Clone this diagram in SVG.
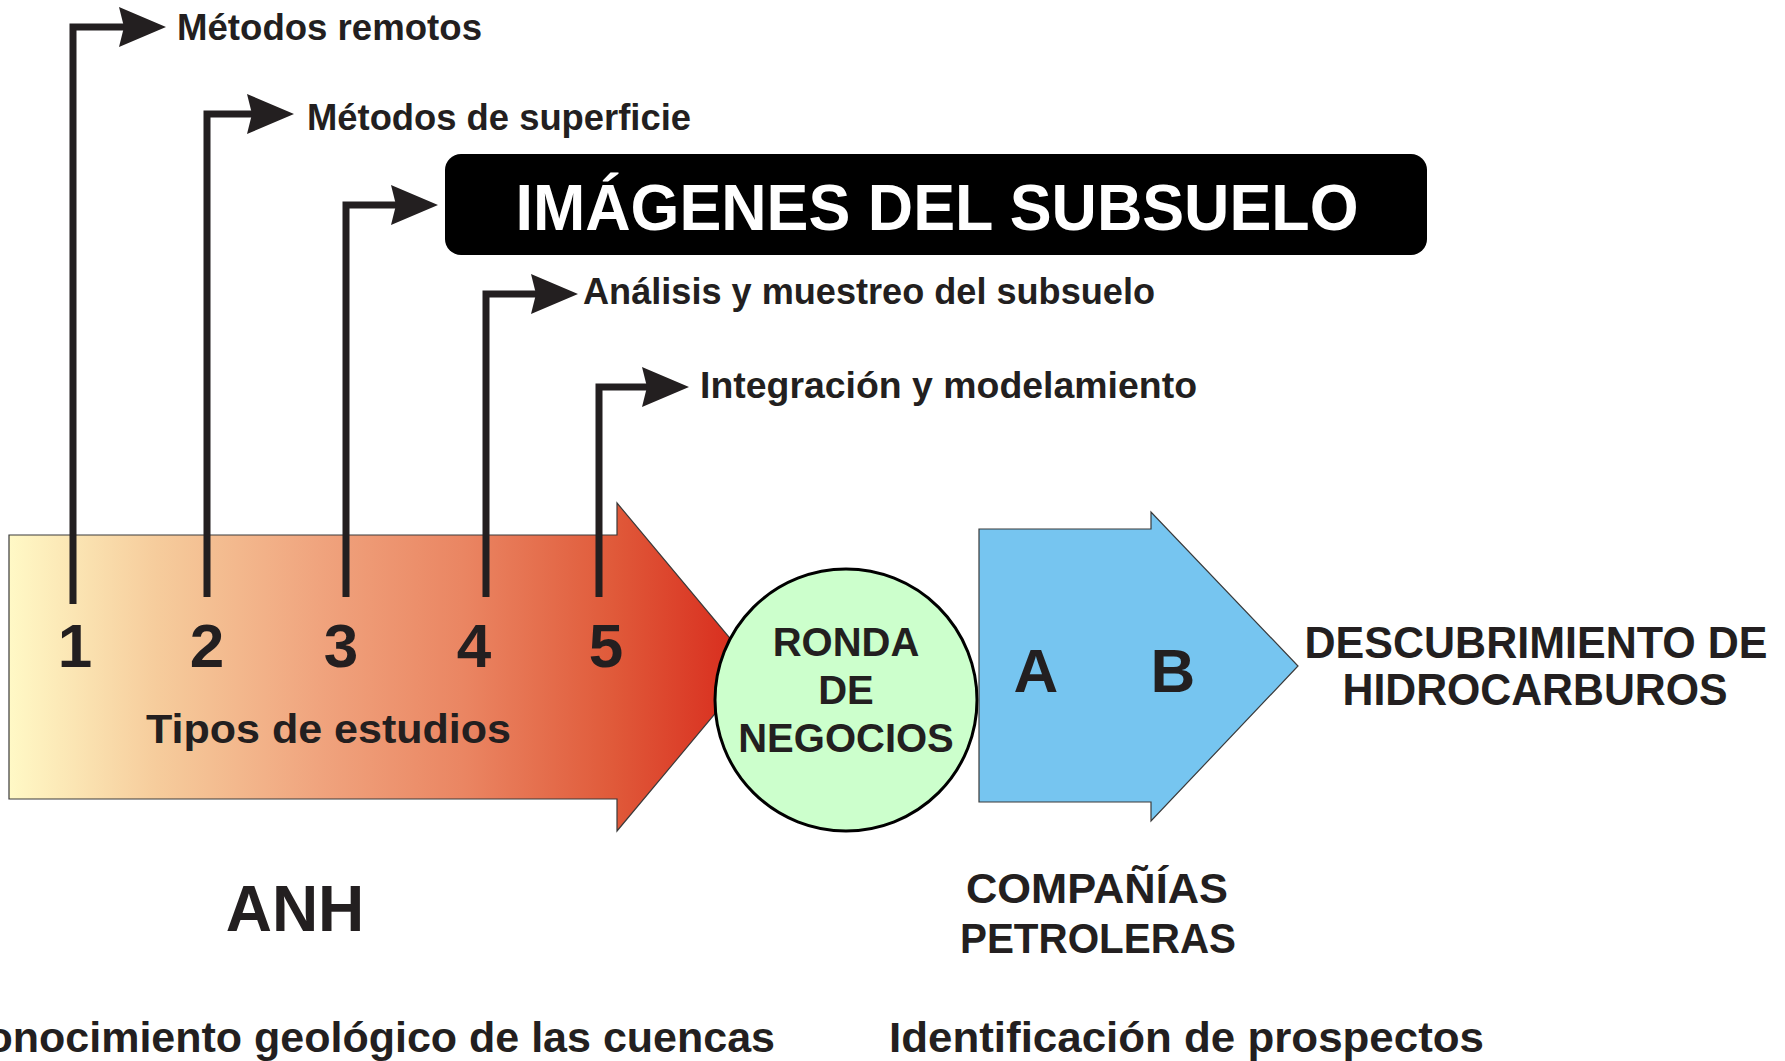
<svg xmlns="http://www.w3.org/2000/svg" width="1785" height="1061" viewBox="0 0 1785 1061">
  <defs>
    <linearGradient id="grad" gradientUnits="userSpaceOnUse" x1="9" y1="0" x2="745" y2="0">
      <stop offset="0" stop-color="#fff9c6"/>
      <stop offset="0.2" stop-color="#f6cc9c"/>
      <stop offset="0.42" stop-color="#f0a47e"/>
      <stop offset="0.62" stop-color="#ea8562"/>
      <stop offset="0.82" stop-color="#e05a3a"/>
      <stop offset="1" stop-color="#d82a1c"/>
    </linearGradient>
    <marker id="head" markerUnits="userSpaceOnUse" viewBox="0 0 47 40" markerWidth="47" markerHeight="40" refX="5" refY="20" orient="auto">
      <path d="M0,0 L47,20 L0,40 L5,20 Z" fill="#231f20"/>
    </marker>
    <style>
      text { font-family: "Liberation Sans", Arial, sans-serif; font-weight: bold; fill: #231f20; }
      .lbl { font-size: 36px; }
      .num { font-size: 62px; text-anchor: middle; }
      .mid { text-anchor: middle; }
      .conn { fill: none; stroke: #231f20; stroke-width: 7; stroke-linejoin: miter; stroke-linecap: butt; marker-end: url(#head); }
    </style>
  </defs>

  <g id="anh-arrow">
    <polygon points="9,535 617,535 617,503 754,667 617,831 617,799 9,799" fill="url(#grad)" stroke="#3a3a3a" stroke-width="1.2"/>
    <text class="num" x="75" y="667">1</text>
    <text class="num" x="207" y="667">2</text>
    <text class="num" x="341" y="667">3</text>
    <text class="num" x="474" y="667">4</text>
    <text class="num" x="606" y="667">5</text>
    <text x="146" y="743" font-size="41" textLength="365" lengthAdjust="spacingAndGlyphs">Tipos de estudios</text>
  </g>

  <g id="ronda">
    <circle cx="846" cy="700" r="131" fill="#ccffcc" stroke="#000" stroke-width="3"/>
    <text class="mid" x="846" y="656" font-size="40">RONDA</text>
    <text class="mid" x="846" y="704" font-size="40">DE</text>
    <text class="mid" x="846" y="752" font-size="40">NEGOCIOS</text>
  </g>

  <g id="companias-arrow">
    <polygon points="979,529 1151,529 1151,512 1298,666 1151,821 1151,802 979,802" fill="#76c5f0" stroke="#3a3a3a" stroke-width="1.2"/>
    <text class="num" x="1036" y="692">A</text>
    <text class="num" x="1173" y="692">B</text>
  </g>

  <g id="descubrimiento">
    <text class="mid" x="1536" y="658" font-size="44" textLength="463" lengthAdjust="spacingAndGlyphs">DESCUBRIMIENTO DE</text>
    <text class="mid" x="1535" y="705" font-size="44" textLength="385" lengthAdjust="spacingAndGlyphs">HIDROCARBUROS</text>
  </g>

  <g id="imagenes">
    <rect x="445" y="154" width="982" height="101" rx="16" ry="16" fill="#000"/>
    <text class="mid" x="937" y="230" font-size="65" fill="#fff" style="fill:#fff" textLength="843" lengthAdjust="spacingAndGlyphs">IMÁGENES DEL SUBSUELO</text>
  </g>

  <g id="metodos-remotos">
    <text class="lbl" x="177" y="40" textLength="305" lengthAdjust="spacingAndGlyphs">Métodos remotos</text>
  </g>
  <g id="metodos-superficie">
    <text class="lbl" x="307" y="130" textLength="384" lengthAdjust="spacingAndGlyphs">Métodos de superficie</text>
  </g>
  <g id="analisis">
    <text class="lbl" x="583" y="304" textLength="572" lengthAdjust="spacingAndGlyphs">Análisis y muestreo del subsuelo</text>
  </g>
  <g id="integracion">
    <text class="lbl" x="700" y="398" textLength="497" lengthAdjust="spacingAndGlyphs">Integración y modelamiento</text>
  </g>

  <g id="anh">
    <text class="mid" x="295" y="931" font-size="64">ANH</text>
  </g>
  <g id="companias">
    <text class="mid" x="1097" y="903" font-size="42" textLength="262" lengthAdjust="spacingAndGlyphs">COMPAÑÍAS</text>
    <text class="mid" x="1098" y="953" font-size="42" textLength="276" lengthAdjust="spacingAndGlyphs">PETROLERAS</text>
  </g>
  <g id="conocimiento">
    <text x="775" y="1052" font-size="43" text-anchor="end">Conocimiento geológico de las cuencas</text>
  </g>
  <g id="identificacion">
    <text x="889" y="1052" font-size="43" textLength="595" lengthAdjust="spacingAndGlyphs">Identificación de prospectos</text>
  </g>

  <g id="connectors">
    <path class="conn" d="M73,604 V27 H124"/>
    <path class="conn" d="M207,597 V114 H252"/>
    <path class="conn" d="M346,597 V205 H396"/>
    <path class="conn" d="M486,597 V294 H536"/>
    <path class="conn" d="M599,597 V387 H647"/>
  </g>
</svg>
